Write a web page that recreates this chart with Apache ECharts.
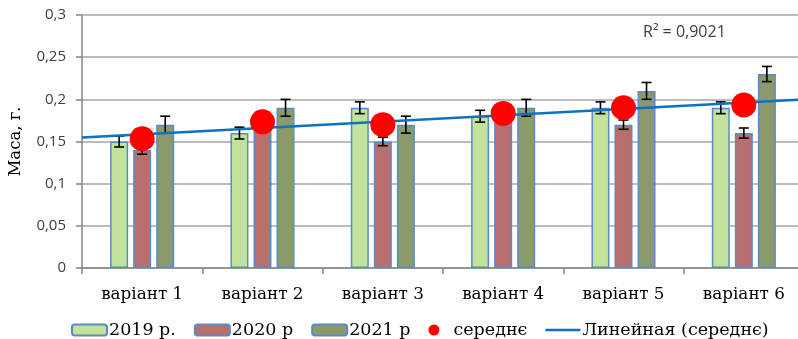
<!DOCTYPE html>
<html>
<head>
<meta charset="utf-8">
<script src="https://cdn.jsdelivr.net/npm/echarts@6/dist/echarts.min.js"></script>
<style>html,body{margin:0;padding:0;background:#fff;}#c{width:798px;height:339px;}</style>
</head>
<body>
<div id="c"></div>
<script>
var categories = ['варіант 1', 'варіант 2', 'варіант 3', 'варіант 4', 'варіант 5', 'варіант 6'];
var seriesNames = ['2019 р.', '2020 р', '2021 р'];
var values2019 = [0.15, 0.16, 0.19, 0.18, 0.19, 0.19];
var values2020 = [0.14, 0.17, 0.15, 0.18, 0.17, 0.16];
var values2021 = [0.17, 0.19, 0.17, 0.19, 0.21, 0.23];
var errors2019 = [0.0065, 0.007, 0.007, 0.007, 0.007, 0.007];
var errors2020 = [0.005, 0.006, 0.005, 0.006, 0.0055, 0.006];
var errors2021 = [0.01, 0.01, 0.01, 0.01, 0.01, 0.009];
var meanName = 'середнє';
var meanValues = [0.1533, 0.1733, 0.17, 0.1833, 0.19, 0.1933];
var trendName = 'Линейная (середнє)';
var trendX = [0.5, 6.5];
var trendY = [0.1546, 0.1998];
var r2Label = 'R² = 0,9021';
var yTicks = {min: 0, max: 0.3, interval: 0.05};

var BAR_W = 18, BAR_GAP = 0.28;
var barColors = ['#C3E29B', '#B86F6E', '#8B9A6D'];
var allValues = [values2019, values2020, values2021];
var allErrors = [errors2019, errors2020, errors2021];
var SERIF = 'DejaVu Serif';

var chart = echarts.init(document.getElementById('c'), null, {renderer: 'canvas'});

function errorSeries(idx) {
  var data = allValues[idx].map(function (v, i) { return [i, v, allErrors[idx][i]]; });
  return {
    type: 'custom',
    name: 'err' + idx,
    xAxisIndex: 0, yAxisIndex: 0,
    z: 4,
    silent: true,
    data: data,
    renderItem: function (params, api) {
      var c = api.value(0), v = api.value(1), e = api.value(2);
      var hi = api.coord([c, v + e]);
      var lo = api.coord([c, v - e]);
      var off = (idx - 1) * (BAR_W + BAR_W * BAR_GAP);
      var x = hi[0] + off;
      var cap = 5;
      var st = {stroke: '#000', lineWidth: 1.6};
      return {
        type: 'group',
        children: [
          {type: 'line', shape: {x1: x, y1: hi[1], x2: x, y2: lo[1]}, style: st},
          {type: 'line', shape: {x1: x - cap, y1: hi[1], x2: x + cap, y2: hi[1]}, style: st},
          {type: 'line', shape: {x1: x - cap, y1: lo[1], x2: x + cap, y2: lo[1]}, style: st}
        ]
      };
    }
  };
}

var series = [];
for (var k = 0; k < 3; k++) {
  series.push({
    type: 'bar',
    name: seriesNames[k],
    data: allValues[k],
    barWidth: BAR_W,
    barGap: (BAR_GAP * 100) + '%',
    z: 2,
    itemStyle: {color: barColors[k], borderColor: '#5B8BC6', borderWidth: 1.5}
  });
}
for (var k2 = 0; k2 < 3; k2++) series.push(errorSeries(k2));
series.push({
  type: 'line',
  name: trendName,
  xAxisIndex: 1, yAxisIndex: 0,
  data: trendX.map(function (x, i) { return [x, trendY[i]]; }),
  showSymbol: false,
  symbol: 'none',
  z: 5,
  lineStyle: {color: '#0E72C0', width: 2.5},
  itemStyle: {color: '#0E72C0'}
});
series.push({
  type: 'scatter',
  name: meanName,
  data: meanValues,
  symbolSize: 25,
  z: 6,
  itemStyle: {color: '#FF0000', opacity: 1}
});

chart.setOption({
  animation: false,
  grid: {left: 82, top: 15, width: 722, bottom: 71, containLabel: false, outerBoundsMode: 'none'},
  legend: {
    left: 71, top: 321, padding: 0,
    itemWidth: 35, itemHeight: 11, itemGap: 18,
    data: [
      {name: seriesNames[0]},
      {name: seriesNames[1]},
      {name: seriesNames[2]},
      {name: meanName, icon: 'circle', itemStyle: {color: '#FF0000', borderWidth: 0, opacity: 1}},
      {name: trendName, icon: 'path://M0,0H35V2.5H0Z', itemStyle: {color: '#0E72C0'}}
    ],
    textStyle: {fontFamily: SERIF, fontSize: 17.5, color: '#000', padding: [0, 0, 0, -3]}
  },
  xAxis: [{
    type: 'category',
    data: categories,
    axisLine: {lineStyle: {color: '#868686', width: 1.5}},
    axisTick: {show: true, length: 6, lineStyle: {color: '#868686', width: 1.5}},
    axisLabel: {margin: 18, fontFamily: SERIF, fontSize: 16.8, color: '#000'},
    splitLine: {show: false}
  }, {
    type: 'value',
    min: trendX[0], max: trendX[1],
    show: false
  }],
  yAxis: [{
    type: 'value',
    min: yTicks.min, max: yTicks.max, interval: yTicks.interval,
    name: 'Маса, г.',
    nameLocation: 'middle',
    nameGap: 58,
    nameRotate: 90,
    nameTextStyle: {fontFamily: SERIF, fontSize: 16.5, color: '#000'},
    axisLine: {show: true, lineStyle: {color: '#868686', width: 1.5}},
    axisTick: {show: true, length: 6, lineStyle: {color: '#868686', width: 1.5}},
    axisLabel: {
      margin: 16, fontFamily: 'Open Sans', fontSize: 15, color: '#404040',
      formatter: function (v) { return String(+v.toFixed(2)).replace('.', ','); }
    },
    splitLine: {lineStyle: {color: '#A6A6A6', width: 1.5}}
  }],
  graphic: [{
    type: 'text', left: 643, top: 24,
    style: {text: r2Label, fontFamily: 'Open Sans', fontSize: 16, fill: '#404040'}
  }],
  series: series
});
</script>
</body>
</html>
